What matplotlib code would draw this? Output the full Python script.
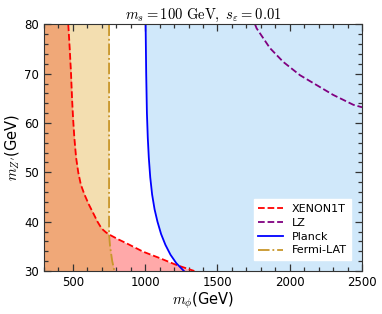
import numpy as np
import matplotlib
matplotlib.use("Agg")
import matplotlib.pyplot as plt
from matplotlib.ticker import MultipleLocator

plt.rcParams["mathtext.fontset"] = "cm"
plt.rcParams["font.family"] = "DejaVu Sans"

# curves (m_phi in GeV, m_Z' in GeV)
xenon_m = [468, 478, 487, 494, 501, 510, 522, 537, 555, 580, 610, 641, 670, 699,
           730, 757, 815, 872, 987, 1102, 1218, 1340]
xenon_z = [80, 75, 70, 65, 61, 57, 53, 50, 47.5, 45.5, 43.5, 41.7, 40, 38.6,
           37.8, 37.3, 36.4, 35.6, 33.9, 32.6, 31.2, 30]

lz_m = [1760, 1771, 1863, 1955, 2071, 2186, 2301, 2440, 2500]
lz_z = [80, 79.2, 75.2, 72.4, 69.7, 67.7, 65.7, 63.7, 63.2]

planck_m = [1003, 1007, 1012, 1018, 1025, 1035, 1048, 1065, 1085, 1110, 1140,
            1175, 1215, 1268]
planck_z = [80, 70, 62, 57, 53, 49, 45.5, 42.5, 40, 37.5, 35.3, 33.3, 31.6, 30]

fermi_m = [750, 750, 757, 772, 787]
fermi_z = [80, 37.5, 35, 32, 30]

xmin, xmax = 300, 2500
ymin, ymax = 30, 80

fig = plt.figure(figsize=(3.82, 3.14), dpi=100)
ax = fig.add_axes([44 / 382, 1 - 271 / 314, 318 / 382, 246.6 / 314])

# shaded regions on a common y grid
yy = np.linspace(ymin, ymax, 400)
xen_x = np.interp(yy, xenon_z[::-1], xenon_m[::-1])
fer_x = np.interp(yy, fermi_z[::-1], fermi_m[::-1])
pla_x = np.interp(yy, planck_z[::-1], planck_m[::-1])

ax.fill_betweenx(yy, pla_x, xmax, color="#d0e8fa", lw=0)
ax.fill_betweenx(yy, xmin, fer_x, color="#f3deb0", lw=0)
ax.fill_betweenx(yy, xmin, xen_x, color="#ffa9a9", lw=0)
ax.fill_betweenx(yy, xmin, np.minimum(xen_x, fer_x), color="#f0a878", lw=0)

ax.plot(xenon_m, xenon_z, color="red", ls="--", lw=1.3, label="XENON1T")
ax.plot(lz_m, lz_z, color="purple", ls="--", lw=1.3, label="LZ")
ax.plot(planck_m, planck_z, color="blue", ls="-", lw=1.3, label="Planck")
ax.plot(fermi_m, fermi_z, color="#c8962a", ls="-.", lw=1.3, label="Fermi-LAT")

ax.set_xlim(xmin, xmax)
ax.set_ylim(ymin, ymax)
ax.xaxis.set_major_locator(MultipleLocator(500))
ax.xaxis.set_minor_locator(MultipleLocator(100))
ax.yaxis.set_major_locator(MultipleLocator(10))
ax.yaxis.set_minor_locator(MultipleLocator(2))
ax.tick_params(which="both", direction="in", top=True, right=True, labelsize=8.5,
               color="#333333", width=0.9)
ax.tick_params(which="major", length=5)
ax.tick_params(which="minor", length=3)
for sp in ax.spines.values():
    sp.set_color("#333333")

ax.set_xlabel(r"$m_\phi$(GeV)", fontsize=10.5, labelpad=1)
ax.set_ylabel(r"$m_{Z'}$(GeV)", fontsize=10.5, labelpad=2)
ax.set_title(r"$m_s=100\ \mathrm{GeV},\ s_\varepsilon=0.01$", fontsize=10.5, pad=4)

leg = ax.legend(loc="lower right", fontsize=8, fancybox=False, framealpha=1,
                edgecolor="white", handlelength=2.2, borderaxespad=1.0,
                labelspacing=0.35)

fig.savefig("out.png", dpi=100)
